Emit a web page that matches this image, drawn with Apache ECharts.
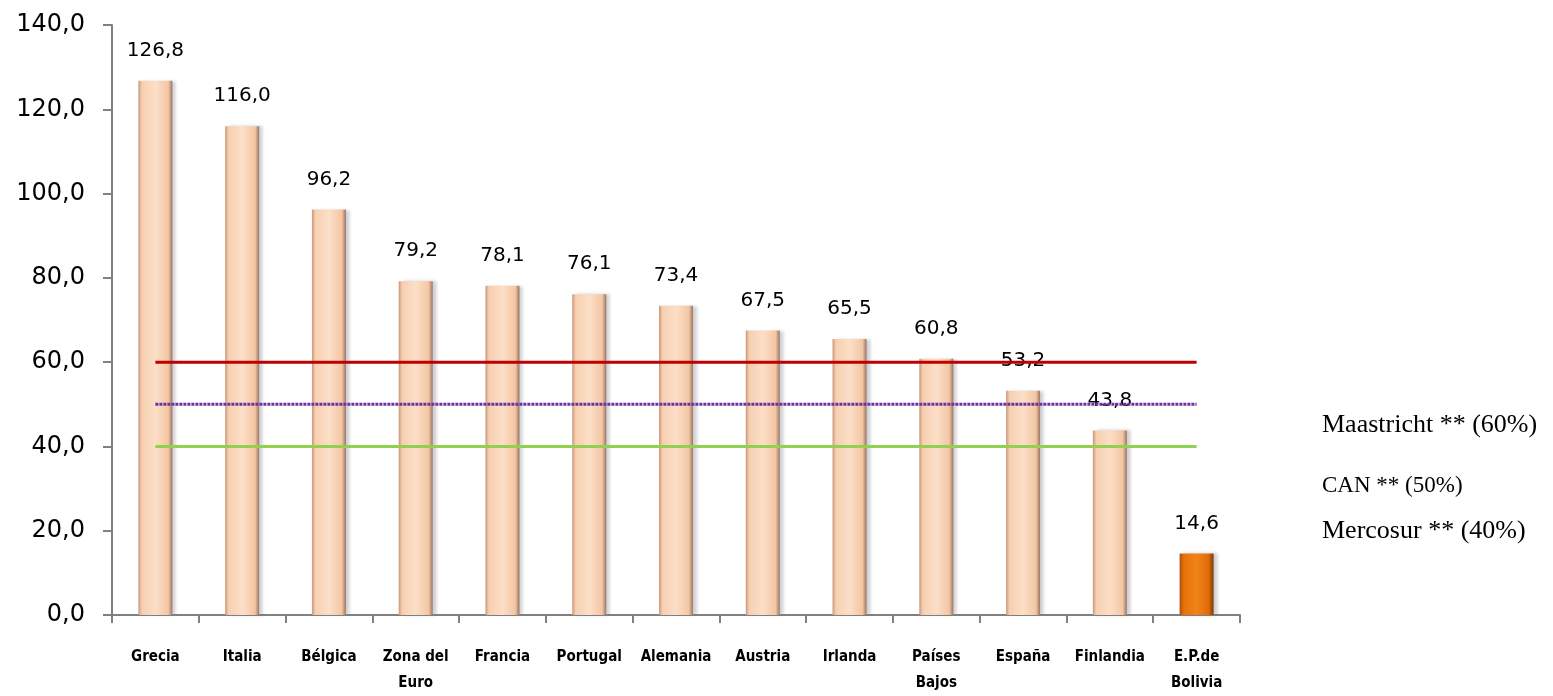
<!DOCTYPE html>
<html><head><meta charset="utf-8">
<script src="https://cdn.jsdelivr.net/npm/echarts@6/dist/echarts.min.js"></script>
<style>html,body{margin:0;padding:0;background:#fff;overflow:hidden}#c{width:1553px;height:696px}</style>
</head><body><div id="c"></div>
<script>
var categories = ['Grecia','Italia','Bélgica','Zona del\nEuro','Francia','Portugal','Alemania','Austria','Irlanda','Países\nBajos','España','Finlandia','E.P.de\nBolivia'];
var values = [126.8,116.0,96.2,79.2,78.1,76.1,73.4,67.5,65.5,60.8,53.2,43.8,14.6];
var maastricht = [60,60,60,60,60,60,60,60,60,60,60,60,60];
var can = [50,50,50,50,50,50,50,50,50,50,50,50,50];
var mercosur = [40,40,40,40,40,40,40,40,40,40,40,40,40];
var legendLabels = ['Maastricht ** (60%)','CAN ** (50%)','Mercosur ** (40%)'];

var peach = {type:'linear',x:0,y:0,x2:1,y2:0,colorStops:[
  {offset:0,color:'#c9967a'},{offset:0.1,color:'#f6cfb0'},{offset:0.5,color:'#fcdfc8'},
  {offset:0.88,color:'#f3c6a3'},{offset:1,color:'#9a7560'}]};
var orange = {type:'linear',x:0,y:0,x2:1,y2:0,colorStops:[
  {offset:0,color:'#a9500a'},{offset:0.12,color:'#e8700c'},{offset:0.5,color:'#f08418'},
  {offset:0.85,color:'#e06a08'},{offset:1,color:'#7a3b08'}]};

var barData = values.map(function(v,i){
  return {value:v, itemStyle:{color: i===values.length-1 ? orange : peach,
    shadowColor:'rgba(120,120,140,0.35)',shadowOffsetX:4,shadowBlur:3}};
});
function fmt(v){return v.toFixed(1).replace('.',',');}

var chart = echarts.init(document.getElementById('c'));
chart.setOption({
  animation:false,
  grid:{left:112,right:313,top:25,bottom:68,containLabel:false},
  xAxis:{type:'category',data:categories,
    axisLine:{lineStyle:{color:'#808080',width:2}},
    axisTick:{show:true,alignWithLabel:false,length:8,lineStyle:{color:'#808080',width:2}},
    axisLabel:{interval:0,margin:29,fontFamily:'DejaVu Sans Condensed, DejaVu Sans, sans-serif',fontWeight:'bold',fontSize:15,color:'#000',lineHeight:26}
  },
  yAxis:{type:'value',min:0,max:140,interval:20,
    axisLine:{show:true,lineStyle:{color:'#808080',width:2}},
    axisTick:{show:true,length:9,lineStyle:{color:'#808080',width:2}},
    splitLine:{show:false},
    axisLabel:{margin:27,fontFamily:'DejaVu Sans, sans-serif',fontSize:24,color:'#000',formatter:function(v){return fmt(v);}}
  },
  series:[
    {type:'bar',data:barData,barWidth:34,z:2,
      label:{show:true,position:'top',distance:20,fontFamily:'DejaVu Sans, sans-serif',fontSize:20,color:'#000',formatter:function(p){return fmt(p.value);}}},
    {type:'line',data:maastricht,symbol:'none',lineStyle:{color:'#c00000',width:3},z:3},
    {type:'line',data:can,symbol:'none',lineStyle:{color:'#7030a0',width:3,type:[3,1]},z:3},
    {type:'line',data:mercosur,symbol:'none',lineStyle:{color:'#92d050',width:3},z:3}
  ],
  graphic:[
    {type:'text',left:1322,top:412,style:{text:legendLabels[0],font:'26px "Liberation Serif", serif',fill:'#000'}},
    {type:'text',left:1322,top:474,style:{text:legendLabels[1],font:'23px "Liberation Serif", serif',fill:'#000'}},
    {type:'text',left:1322,top:518,style:{text:legendLabels[2],font:'26px "Liberation Serif", serif',fill:'#000'}}
  ]
});
</script></body></html>
